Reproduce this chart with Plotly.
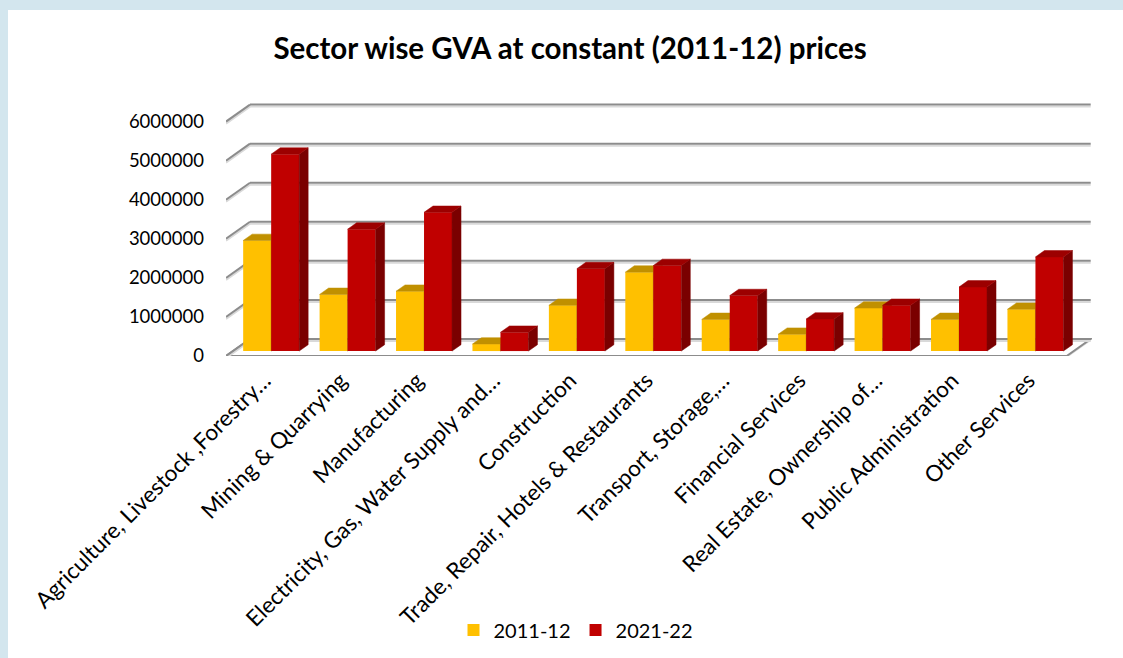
import plotly.graph_objects as go

# ---------------- data ----------------
categories = [
    "Agriculture, Livestock ,Forestry…",
    "Mining & Quarrying",
    "Manufacturing",
    "Electricity, Gas, Water Supply and…",
    "Construction",
    "Trade, Repair, Hotels & Restaurants",
    "Transport, Storage,…",
    "Financial Services",
    "Real Estate, Ownership of…",
    "Public Administration",
    "Other Services",
]
gva_2011_12 = [2830000, 1450000, 1530000, 180000, 1170000, 2020000, 810000, 430000, 1100000, 810000, 1070000]
gva_2021_22 = [5040000, 3120000, 3550000, 480000, 2110000, 2190000, 1420000, 820000, 1170000, 1640000, 2410000]
series_names = ["2011-12", "2021-22"]
y_tick_values = [0, 1000000, 2000000, 3000000, 4000000, 5000000, 6000000]
title_text = "Sector wise GVA at constant (2011-12) prices"

# ---------------- geometry (pixels -> axis units) ----------------
W, H = 1123, 658
PL, PR, PT, PB = 226, 1092, 100, 356          # plot area in px
n = len(categories)
px_per_x = (1066.7 - PL) / n                   # front floor spans -0.5 .. n-0.5
x_min = -0.5
x_max = x_min + (PR - PL) / px_per_x
px_per_val = 39.07 / 1e6
y_max = (PB - PT) / px_per_val
DX = 24 / px_per_x                             # full depth offset (x units)
DY = 17 / px_per_val                           # full depth offset (value units)
D0 = 0.29                                      # depth of bar front face
DD = 0.375                                     # bar depth
BW = 28 / px_per_x                             # bar width

FONT = "Lato"
front_cols = ["#FFC000", "#C00000"]
top_cols = ["#C09000", "#9C0000"]
side_cols = ["#A07800", "#7A0000"]

fig = go.Figure()

series = [gva_2011_12, gva_2021_22]
for s, vals in enumerate(series):
    xa = "x%d" % (s + 2)
    ya = "y%d" % (s + 2)
    centers = [i + D0 * DX + (BW / 2 if s == 1 else -BW / 2) for i in range(n)]
    base = D0 * DY
    side_x, side_y, top_x, top_y = [], [], [], []
    for c, v in zip(centers, vals):
        xl, xr = c - BW / 2, c + BW / 2
        yb, yt = base, base + v
        ddx, ddy = DD * DX, DD * DY
        side_x += [xr, xr + ddx, xr + ddx, xr, xr, None]
        side_y += [yb, yb + ddy, yt + ddy, yt, yb, None]
        top_x += [xl, xr, xr + ddx, xl + ddx, xl, None]
        top_y += [yt, yt, yt + ddy, yt + ddy, yt, None]
    fig.add_trace(go.Bar(
        x=centers, y=vals, base=[base] * n, width=[BW] * n,
        marker=dict(color=front_cols[s], line=dict(width=0)),
        name=series_names[s], showlegend=True, xaxis=xa, yaxis=ya,
        hovertext=categories, hoverinfo="text+y",
    ))
    fig.add_trace(go.Scatter(
        x=side_x, y=side_y, mode="lines", fill="toself",
        fillcolor=side_cols[s], line=dict(color=side_cols[s], width=0.5),
        showlegend=False, hoverinfo="skip", xaxis=xa, yaxis=ya,
    ))
    fig.add_trace(go.Scatter(
        x=top_x, y=top_y, mode="lines", fill="toself",
        fillcolor=top_cols[s], line=dict(color=top_cols[s], width=0.5),
        showlegend=False, hoverinfo="skip", xaxis=xa, yaxis=ya,
    ))

# ---------------- walls / gridlines ----------------
shapes = []


def px_to_paper_x(px):
    return (px - PL) / (PR - PL)


def px_to_paper_y(py):
    return (PB - py) / (PB - PT)


# slide background strip and white chart area
shapes.append(dict(type="rect", xref="paper", yref="paper", layer="below",
                   x0=px_to_paper_x(0), x1=px_to_paper_x(W), y0=px_to_paper_y(H), y1=px_to_paper_y(0),
                   fillcolor="#D3E6EE", line=dict(width=0)))
shapes.append(dict(type="rect", xref="paper", yref="paper", layer="below",
                   x0=px_to_paper_x(8), x1=px_to_paper_x(W), y0=px_to_paper_y(H), y1=px_to_paper_y(10),
                   fillcolor="#FFFFFF", line=dict(width=0)))

shadow = 2 / px_per_val
grid_col = "#8C8C8C"
shadow_col = "#D9D9D9"
x_fr = n - 0.5
# floor
shapes.append(dict(type="path", xref="x", yref="y", layer="below",
                   path="M %f %f L %f %f L %f %f L %f %f Z" % (
                       x_min, 0 - shadow, x_fr, 0 - shadow, x_fr + DX, DY - shadow, x_min + DX, DY - shadow),
                   fillcolor=shadow_col, line=dict(width=0)))
shapes.append(dict(type="path", xref="x", yref="y", layer="below",
                   path="M %f %f L %f %f L %f %f L %f %f Z" % (
                       x_min, 0, x_fr, 0, x_fr + DX, DY, x_min + DX, DY),
                   fillcolor="#FFFFFF", line=dict(color=grid_col, width=2)))
for v in y_tick_values:
    for off, col in ((-shadow, shadow_col), (0, grid_col)):
        shapes.append(dict(type="line", xref="x", yref="y", layer="below",
                           x0=x_min + DX, x1=x_fr + DX, y0=v + DY + off, y1=v + DY + off,
                           line=dict(color=col, width=2)))
        shapes.append(dict(type="line", xref="x", yref="y", layer="below",
                           x0=x_min, x1=x_min + DX, y0=v + off, y1=v + DY + off,
                           line=dict(color=col, width=2)))

axis_common = dict(showgrid=False, zeroline=False, showline=False, fixedrange=True, automargin=False)
fig.update_layout(
    width=W, height=H,
    margin=dict(l=PL, r=W - PR, t=PT, b=H - PB, pad=0, autoexpand=False),
    paper_bgcolor="#FFFFFF", plot_bgcolor="rgba(0,0,0,0)",
    font=dict(family=FONT, color="#000000"),
    title=dict(text="<b>%s</b>" % title_text, xref="container", yref="container",
               x=570 / W, y=1 - 49 / H, xanchor="center", yanchor="middle",
               font=dict(family=FONT, size=29.5, color="#000000")),
    xaxis=dict(range=[x_min, x_max], tickmode="array", tickvals=list(range(n)),
               ticktext=categories, tickangle=-45, ticks="",
               tickfont=dict(family=FONT, size=22.5, color="#000000"),
               ticklabelshift=0, ticklabelstandoff=6, **axis_common),
    yaxis=dict(range=[0, y_max], tickmode="array", tickvals=y_tick_values,
               ticktext=[str(v) for v in y_tick_values], ticks="",
               tickfont=dict(family=FONT, size=18.5, color="#000000"),
               ticklabelstandoff=21, **axis_common),
    xaxis2=dict(range=[x_min, x_max], overlaying="x", visible=False, **axis_common),
    yaxis2=dict(range=[0, y_max], overlaying="y", visible=False, **axis_common),
    xaxis3=dict(range=[x_min, x_max], overlaying="x", visible=False, **axis_common),
    yaxis3=dict(range=[0, y_max], overlaying="y", visible=False, **axis_common),
    barmode="overlay",
    shapes=shapes,
    legend=dict(orientation="h", x=px_to_paper_x(576), xanchor="center",
                y=px_to_paper_y(630), yanchor="middle",
                font=dict(family=FONT, size=20, color="#000000"),
                bgcolor="rgba(0,0,0,0)", itemwidth=30),
    showlegend=True,
)

fig.write_html(
    "out.html",
    config={"displayModeBar": False},
    post_script="document.body.style.margin='0';document.body.style.overflow='hidden';",
)
